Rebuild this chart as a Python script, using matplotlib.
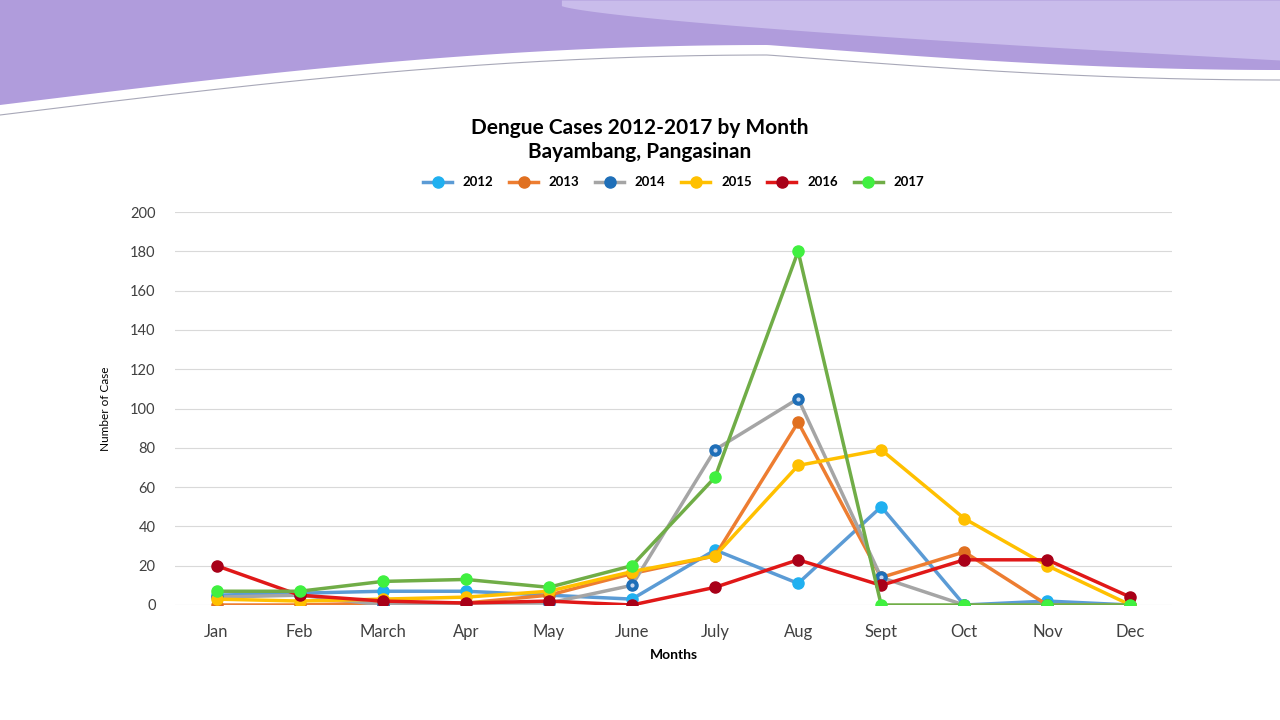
import matplotlib.pyplot as plt
import numpy as np

plt.rcParams['font.family'] = ['Lato', 'DejaVu Sans']

months = ["Jan","Feb","March","Apr","May","June","July","Aug","Sept","Oct","Nov","Dec"]
years = ["2012","2013","2014","2015","2016","2017"]
v2012 = [5,6,7,7,5,3,28,11,50,0,2,0]
v2013 = [0,0,1,1,5,16,25,93,14,27,0,0]
v2014 = [4,5,0,1,1,10,79,105,14,0,0,0]
v2015 = [3,2,3,4,7,17,25,71,79,44,20,0]
v2016 = [20,5,2,1,2,0,9,23,10,23,23,4]
v2017 = [7,7,12,13,9,20,65,180,0,0,0,0]
series = [v2012,v2013,v2014,v2015,v2016,v2017]
line_c = ["#5B9BD5","#ED7D31","#A5A5A5","#FFC000","#E01818","#70AD47"]
mark_c = ["#20B0F0","#E07020","#1F6FB8","#FFC000","#A80018","#40F040"]

fig = plt.figure(figsize=(12.8,7.2), dpi=100)
bg = fig.add_axes([0,0,1,1]); bg.set_xlim(0,1280); bg.set_ylim(720,0); bg.axis('off')
x = np.linspace(0,1280,400)
t = x/1280
lower = 105 - 60*np.sin(np.pi*np.clip(t/0.6,0,1)/2) + 12*np.clip((t-0.6)/0.4,0,1)
lower = np.where(t > 0.6, 45 + 25*np.sin(np.pi*(t-0.6)/0.8), lower)
bg.fill_between(x, 0, lower, color="#B09CDC", lw=0)
xr = x[x>560]
bg.fill_between(xr, 0, 5 + 55*((xr-560)/720)**0.7, color="#C9BCEB", lw=0)
bg.plot(x, lower+10, color="#A8A8B8", lw=0.8)

ax = fig.add_axes([175/1280, 1-605/720, (1172-175)/1280, (605-212)/720])
xs = np.arange(len(months))
for i,(vals,y) in enumerate(zip(series,years)):
    ax.plot(xs, vals, color=line_c[i], lw=2.5, marker='o', ms=8,
            mfc=mark_c[i], mec=mark_c[i], label=y, zorder=3+i)
    if y == "2014":
        ax.plot(xs, vals, ls='none', marker='o', ms=2, color='#C8D8F0', zorder=3+i)
ax.set_xlim(-0.5, 11.5)
ax.set_ylim(0,200)
ax.set_yticks(range(0,201,20))
ax.set_xticks(xs); ax.set_xticklabels(months, fontsize=12, color="#404040")
ax.tick_params(axis='y', labelsize=10.5, colors="#404040", length=0, pad=14)
ax.tick_params(axis='x', length=0, pad=14)
ax.grid(axis='y', color="#D9D9D9", lw=0.8)
for s in ax.spines.values(): s.set_visible(False)
ax.set_axisbelow(True)
ax.set_xlabel("Months", fontsize=10, fontweight='bold', labelpad=6)
ax.set_ylabel("Number of Case", fontsize=8.5, labelpad=14)
fig.text(0.5, 1-140/720, "Dengue Cases 2012-2017 by Month\nBayambang, Pangasinan",
         ha='center', va='center', fontsize=15, fontweight='bold', linespacing=1.3)
ax.legend(loc='lower center', bbox_to_anchor=(0.5, 1.03), ncol=6, frameon=False,
          prop={'weight':'bold','size':9.5}, handlelength=2.2, columnspacing=1.2)
fig.savefig("out.png", dpi=100)
